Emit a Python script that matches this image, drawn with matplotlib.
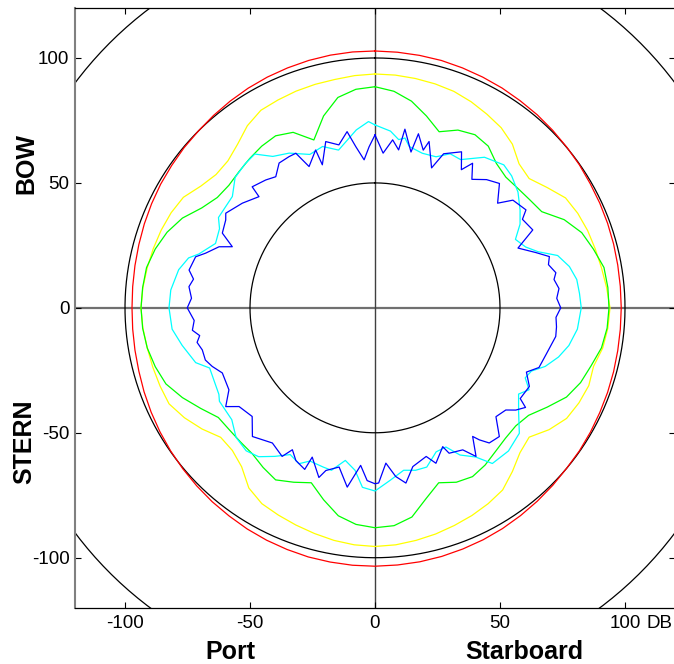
import numpy as np
import matplotlib
matplotlib.use('Agg')
import matplotlib.pyplot as plt

plt.rcParams['font.family'] = ['Liberation Sans', 'DejaVu Sans']

# bearings in degrees (0 = bow, 90 = starboard), levels in dB
red_ang = list(range(0, 360, 5))
red_db = [102.8, 102.7, 102.6, 102.5, 102.2, 101.9, 101.6, 101.2, 100.9, 100.5,
          100.1, 99.8, 99.4, 99.2, 99.0, 98.8, 98.6, 98.5, 98.5, 98.5, 98.6, 98.8,
          99.0, 99.2, 99.5, 99.8, 100.0, 100.5, 101.0, 101.5, 102.0, 102.4, 102.7,
          103.0, 103.2, 103.3, 103.4, 103.4, 103.3, 103.2, 102.9, 102.6, 102.2,
          101.7, 101.3, 100.8, 100.3, 99.8, 99.3, 98.8, 98.3, 97.8, 97.5, 97.3,
          97.2, 97.3, 97.5, 97.8, 98.2, 98.6, 99.0, 99.3, 99.7, 100.0, 100.5, 101.0,
          101.5, 101.9, 102.2, 102.5, 102.7, 102.8]

yellow_ang = list(range(0, 360, 5))
yellow_db = [93.6, 93.5, 93.2, 92.8, 92.2, 91.0, 89.5, 88.0, 85.5, 81.5, 80.5, 84.0,
             88.0, 89.5, 90.5, 91.2, 92.0, 93.0, 94.0, 93.5, 92.5, 90.5, 91.0, 90.0,
             88.5, 85.0, 80.5, 82.0, 85.5, 89.0, 90.5, 91.7, 92.7, 93.7, 94.5, 95.2,
             95.5, 95.2, 94.5, 93.5, 92.5, 91.5, 90.5, 88.0, 83.0, 80.7, 80.6, 84.5,
             88.0, 90.9, 91.5, 92.0, 92.5, 93.2, 93.6, 93.2, 92.5, 91.8, 91.0, 90.0,
             88.5, 85.0, 83.0, 83.2, 85.5, 89.0, 91.3, 91.8, 92.3, 92.6, 92.8, 93.3]

green_ang = list(range(0, 360, 5))
green_db = [88.5, 87.0, 84.0, 79.5, 75.0, 78.5, 80.0, 79.0, 75.5, 74.0, 74.5, 75.5,
            77.0, 83.5, 88.0, 90.5, 93.0, 93.5, 93.6, 93.2, 92.0, 89.5, 87.5, 84.5,
            79.5, 75.0, 73.5, 73.8, 75.0, 76.8, 78.0, 77.0, 74.5, 79.0, 85.0, 87.5,
            88.0, 87.0, 84.5, 79.5, 74.5, 77.0, 79.5, 78.0, 76.3, 76.0, 76.0, 76.5,
            80.5, 85.0, 89.0, 91.0, 92.5, 93.3, 93.6, 93.3, 92.8, 91.0, 88.5, 85.0,
            80.0, 77.0, 76.3, 77.0, 78.0, 79.0, 79.5, 77.5, 71.5, 79.5, 85.5, 87.8]

cyan_ang = [0, 5, 8, 10, 12, 17, 22, 26, 30, 36, 42, 46, 51, 56, 60, 64, 68, 71, 74,
            78, 82, 86, 90, 96, 101, 105, 109, 112, 115, 118, 121, 126, 131, 137,
            143, 146, 150, 153, 157, 162, 166, 170, 175, 180, 184, 187, 191, 195,
            198, 203, 206, 210, 214, 218, 222, 227, 232, 239, 241, 250, 253, 259,
            264, 270, 275, 281, 285, 287, 292, 297, 300, 308, 313, 318, 322, 326,
            331, 337, 342, 347, 354, 358]
cyan_db = [73.2, 71.0, 68.0, 69.0, 66.0, 64.7, 65.2, 68.6, 68.5, 74.5, 77.0, 76.0,
           73.6, 70.0, 67.0, 62.5, 65.0, 69.0, 76.0, 79.5, 81.5, 82.0, 82.5, 81.4,
           79.0, 76.0, 72.0, 67.5, 66.3, 69.8, 67.0, 71.0, 76.5, 78.3, 78.0, 72.0,
           68.0, 62.5, 62.6, 67.0, 67.0, 66.0, 69.3, 73.3, 72.0, 65.5, 62.2, 67.3,
           67.0, 66.6, 69.4, 67.8, 71.7, 75.6, 77.0, 76.0, 72.7, 72.6, 71.4, 70.4,
           75.0, 78.6, 81.6, 82.4, 82.0, 80.0, 77.2, 73.7, 68.8, 69.8, 72.3, 72.4,
           76.5, 77.6, 78.1, 73.1, 70.8, 66.7, 67.9, 64.8, 71.6, 74.6]

blue_ang = [0, 3, 6, 8.5, 9.5, 13, 14, 17, 18, 22, 24, 29, 32, 34, 37, 41, 45, 49.5,
            52, 57, 59, 63.7, 67.3, 71, 73.6, 76, 79, 81, 84, 87, 90, 93, 96, 99,
            105, 110, 113, 117, 122, 123.5, 126, 128, 132, 136, 139.8, 141.7, 142.8,
            145.8, 148.3, 153, 154, 158.6, 161, 166.6, 170, 173, 176, 178.8, 180,
            182.6, 185.2, 187, 188.8, 192.7, 196.8, 198.3, 202.8, 203.5, 207.4,
            210.2, 212, 217.2, 223.6, 228.5, 234, 236.5, 240.7, 246.9, 250.2, 252.9,
            256.3, 259, 261, 263, 266, 270, 273, 276.5, 279, 281.5, 285.9, 287.9,
            291.4, 293.2, 296.1, 300.5, 302.4, 308.3, 313.8, 314.6, 319.5, 322.9,
            326.5, 330.4, 332.9, 335, 339.4, 339.8, 343.5, 347.5, 351, 353.2, 355.8,
            357.9]
blue_db = [69.2, 62.0, 67.6, 63.9, 72.5, 64.0, 71.8, 66.0, 70.0, 60.4, 67.5, 71.4,
           65.2, 69.8, 64.4, 68.0, 70.4, 64.5, 70.0, 72.0, 68.8, 70.4, 62.0, 68.0,
           72.7, 71.5, 73.7, 72.5, 74.0, 72.8, 74.3, 72.5, 73.0, 73.2, 71.0, 69.8,
           65.8, 69.3, 68.5, 72.2, 69.6, 66.4, 65.1, 71.6, 70.8, 67.3, 64.6, 71.9,
           66.8, 65.3, 61.8, 66.8, 62.9, 65.3, 71.2, 68.0, 62.3, 70.1, 70.4, 69.2,
           63.3, 67.6, 72.6, 65.3, 68.0, 71.5, 64.8, 70.5, 68.8, 65.7, 70.1, 67.9,
           71.1, 65.6, 67.2, 71.6, 67.0, 66.4, 69.2, 71.0, 71.1, 72.5, 71.0, 73.6,
           72.5, 75.1, 73.5, 74.9, 73.5, 75.9, 74.6, 71.2, 67.0, 62.1, 68.0, 69.3,
           70.7, 67.6, 64.3, 69.0, 67.3, 65.8, 69.5, 69.6, 69.5, 62.4, 67.5, 61.0,
           69.4, 66.8, 71.4, 65.0, 59.4, 64.5]

ref_rings = [50, 100, 150]
ticks = [-100, -50, 0, 50, 100]
tick_labels = ['-100', '-50', '0', '50', '100']


def polar_xy(ang, r):
    a = np.radians(np.append(ang, ang[0]))
    r = np.append(r, r[0])
    return r * np.sin(a), r * np.cos(a)


fig = plt.figure(figsize=(6.74, 6.64), dpi=100)
ax = fig.add_axes([75 / 674, 56.3 / 664, 600 / 674, 599.7 / 664])

# crosshair
ax.axhline(0, color='#707070', lw=1.6, zorder=1)
ax.axvline(0, color='#404040', lw=1.0, zorder=1)

series = [(red_ang, red_db, '#ff0000'),
          (yellow_ang, yellow_db, '#ffff00'),
          (green_ang, green_db, '#00ff00'),
          (cyan_ang, cyan_db, '#00ffff'),
          (blue_ang, blue_db, '#0000ff')]
for ang, db, col in series:
    x, y = polar_xy(ang, db)
    ax.plot(x, y, color=col, lw=0.9, zorder=3)

t = np.linspace(0, 2 * np.pi, 400)
for r in ref_rings:
    ax.plot(r * np.sin(t), r * np.cos(t), color='black', lw=0.9, zorder=2)

ax.set_xlim(-120, 120)
ax.set_ylim(-120, 120)
ax.set_xticks(ticks)
ax.set_yticks(ticks)
ax.set_xticklabels(tick_labels)
ax.set_yticklabels(tick_labels)
ax.tick_params(direction='in', length=4, width=0.8, labelsize=13.5,
               top=True, right=True, pad=5)
ax.tick_params(axis='y', pad=4)
for side in ['top', 'bottom', 'right']:
    ax.spines[side].set_color('black')
    ax.spines[side].set_linewidth(0.9)
ax.spines['left'].set_color('#808080')
ax.spines['left'].set_linewidth(1.5)

# unit next to the last x tick label
ax.annotate('DB', xy=(100, 0), xycoords=('data', 'axes fraction'),
            xytext=(15.5, -5), textcoords='offset points',
            ha='left', va='top', fontsize=13.5)

fig.text(26 / 674, 1 - 164 / 664, 'BOW', rotation=90, ha='center', va='center',
         fontsize=18, fontweight='bold')
fig.text(24 / 674, 1 - 442 / 664, 'STERN', rotation=90, ha='center', va='center',
         fontsize=18, fontweight='bold')
fig.text(230 / 674, 1 - 652 / 664, 'Port', ha='center', va='center',
         fontsize=18, fontweight='bold')
fig.text(524 / 674, 1 - 652 / 664, 'Starboard', ha='center', va='center',
         fontsize=18, fontweight='bold')

fig.savefig('out.png', dpi=100)
